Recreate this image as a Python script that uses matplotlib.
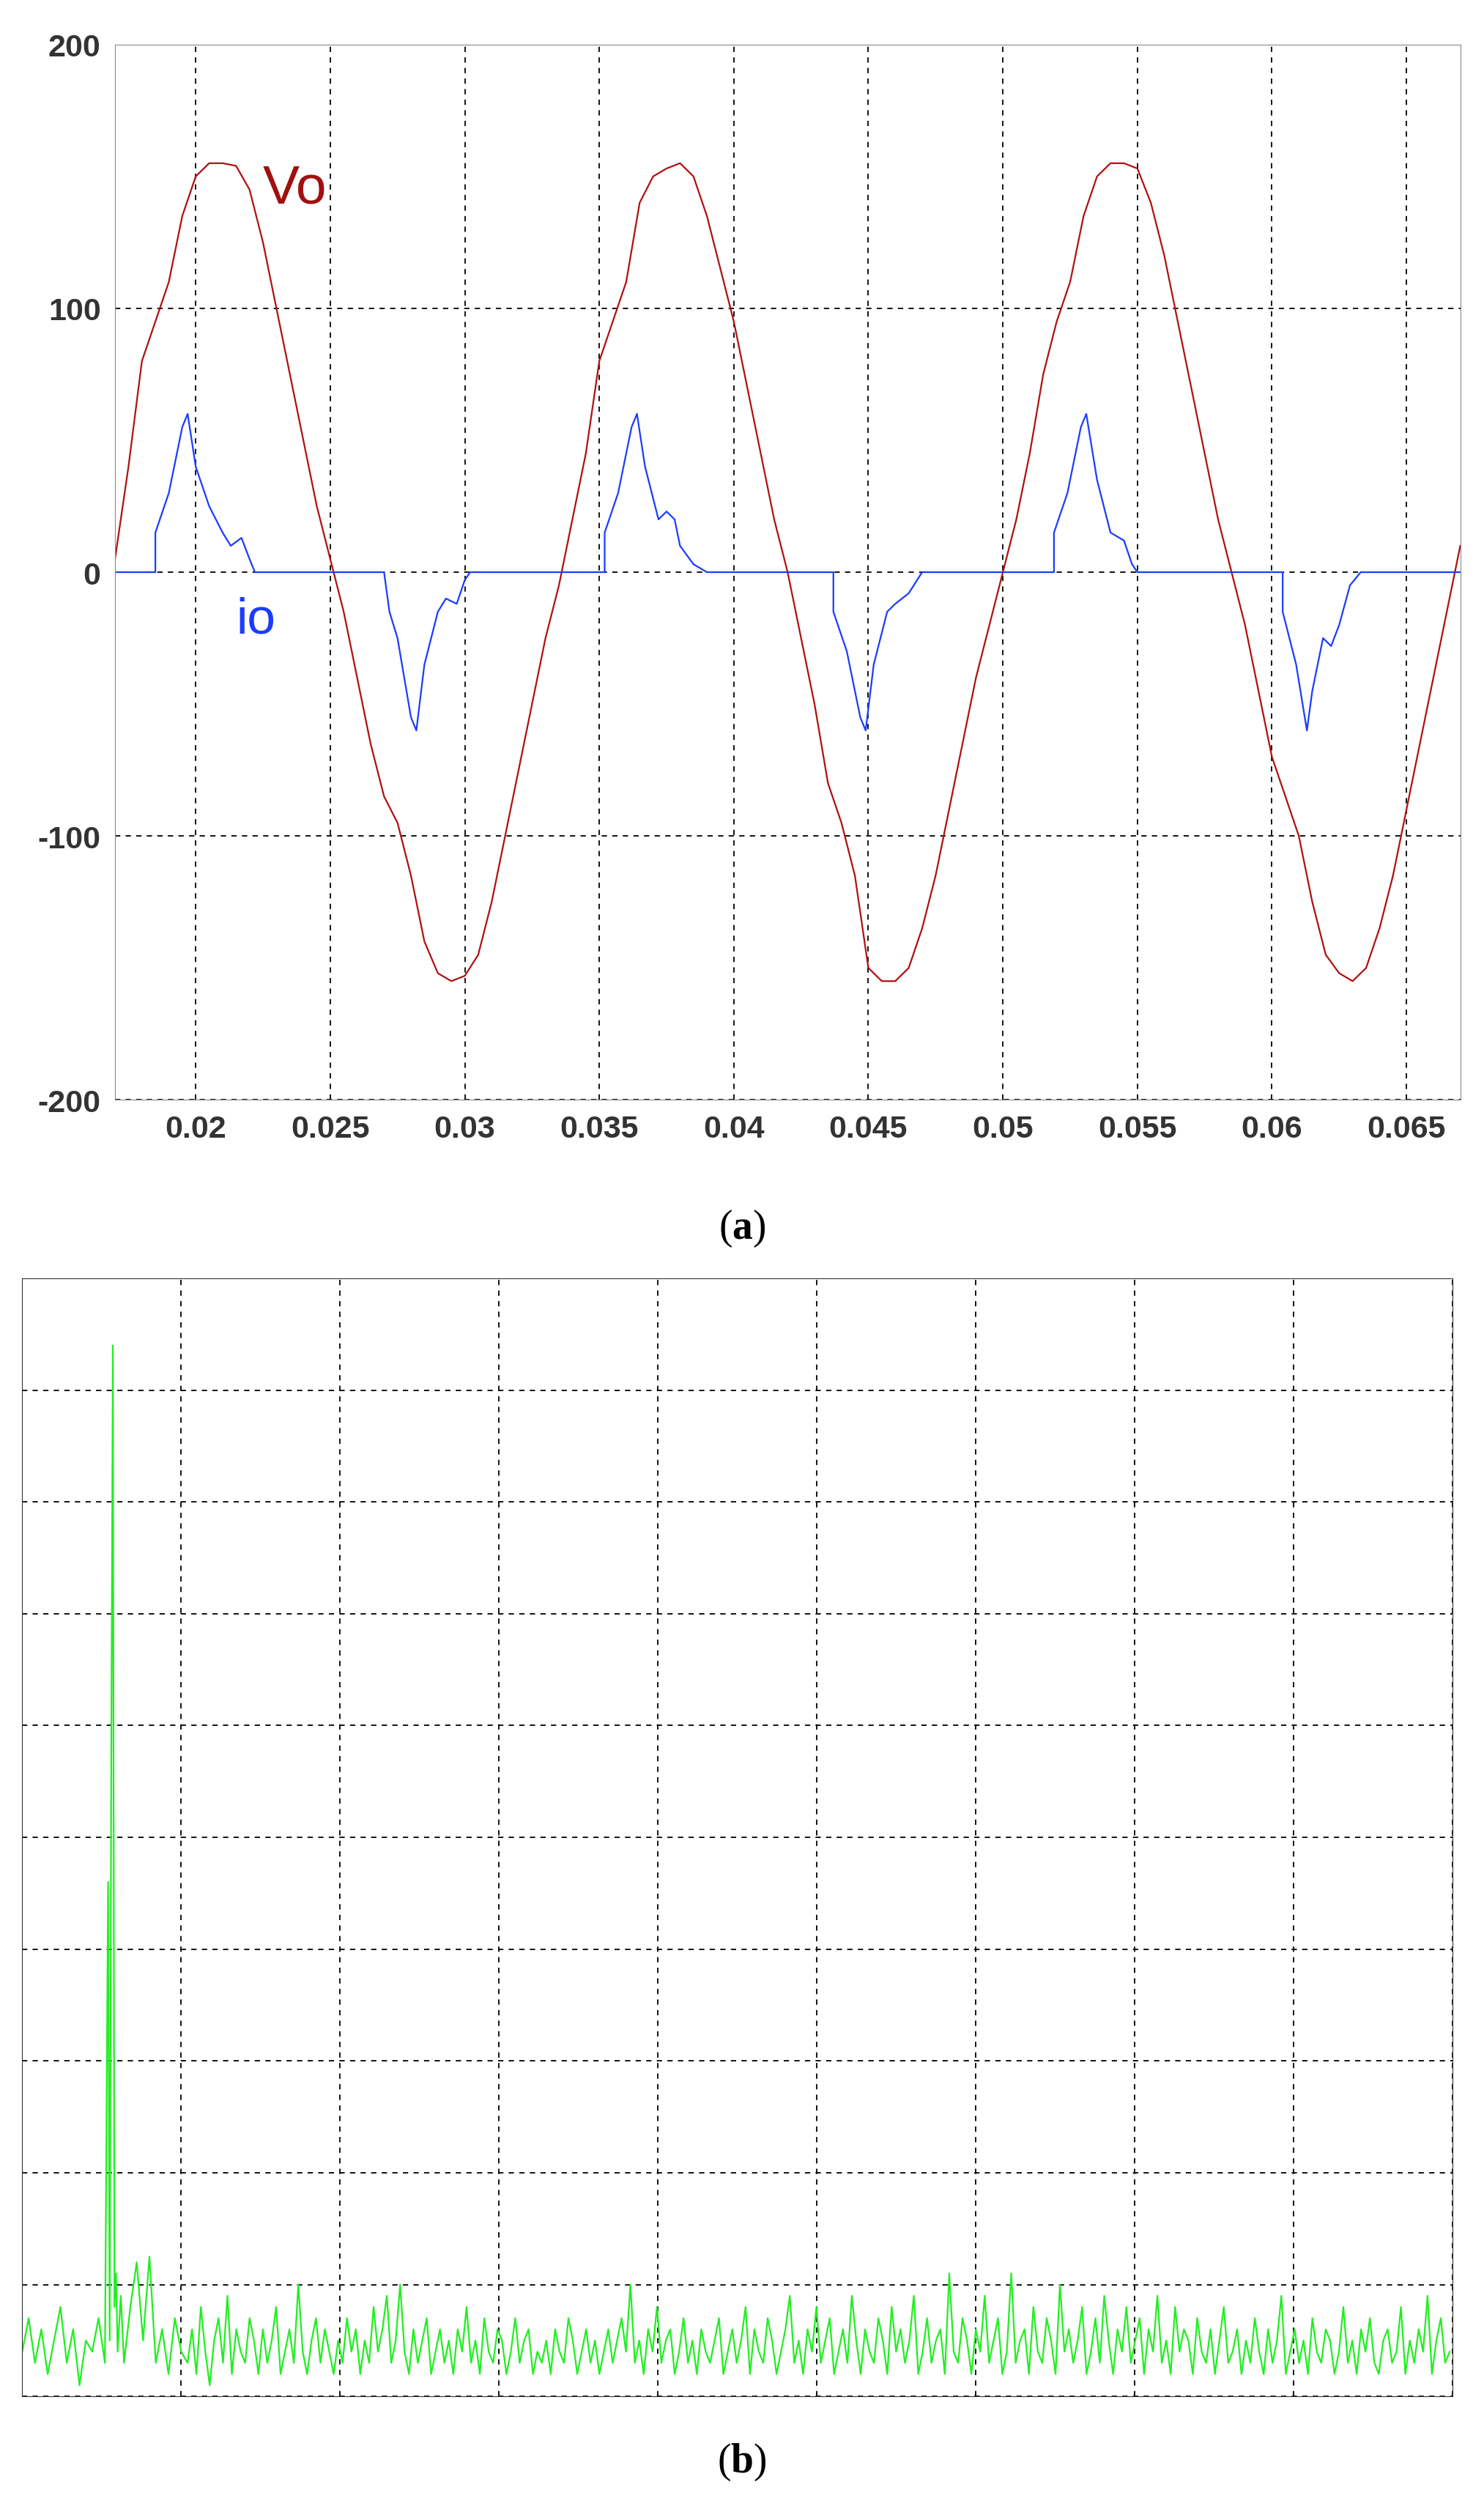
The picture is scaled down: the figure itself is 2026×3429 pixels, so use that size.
import matplotlib
matplotlib.use("Agg")
import matplotlib.pyplot as plt

t_vo = [0.017,0.0175,0.018,0.0185,0.019,0.0195,0.020,0.0205,0.021,0.0215,0.022,0.0225,0.023,0.0235,0.024,0.0245,0.025,0.0255,0.026,0.0265,0.027,0.0275,0.028,0.0285,0.029,0.0295,0.030,0.0305,0.031,0.0315,0.032,0.0325,0.033,0.0335,0.034,0.0345,0.035,0.0355,0.036,0.0365,0.037,0.0375,0.038,0.0385,0.039,0.0395,0.040,0.0405,0.041,0.0415,0.042,0.0425,0.043,0.0435,0.044,0.0445,0.045,0.0455,0.046,0.0465,0.047,0.0475,0.048,0.0485,0.049,0.0495,0.050,0.0505,0.051,0.0515,0.052,0.0525,0.053,0.0535,0.054,0.0545,0.055,0.0555,0.056,0.0565,0.057,0.0575,0.058,0.0585,0.059,0.0595,0.060,0.0605,0.061,0.0615,0.062,0.0625,0.063,0.0635,0.064,0.0645,0.065,0.0655,0.066,0.0665,0.067]
vo = [5,40,80,95,110,135,150,155,155,154,145,125,100,75,50,25,5,-15,-40,-65,-85,-95,-115,-140,-152,-155,-153,-145,-125,-100,-75,-50,-25,-5,20,45,80,95,110,140,150,153,155,150,135,115,95,70,45,20,0,-25,-50,-80,-95,-115,-150,-155,-155,-150,-135,-115,-90,-65,-40,-20,0,20,45,75,95,110,135,150,155,155,153,140,120,95,70,45,20,0,-20,-45,-70,-85,-100,-125,-145,-152,-155,-150,-135,-115,-90,-65,-40,-15,10]

t_io = [0.017,0.0185,0.0185,0.019,0.0195,0.0197,0.020,0.0205,0.021,0.0213,0.0217,0.022,0.0222,0.027,0.0272,0.0275,0.028,0.0282,0.0285,0.029,0.0293,0.0297,0.030,0.0302,0.0352,0.0352,0.0357,0.0362,0.0364,0.0367,0.0372,0.0375,0.0378,0.038,0.0385,0.039,0.0437,0.0437,0.0442,0.0447,0.0449,0.0452,0.0457,0.046,0.0465,0.047,0.0519,0.0519,0.0524,0.0529,0.0531,0.0535,0.054,0.0545,0.0548,0.055,0.0604,0.0604,0.0609,0.0613,0.0615,0.0619,0.0622,0.0625,0.0629,0.0633,0.067]
io = [0,0,15,30,55,60,40,25,15,10,13,5,0,0,-15,-25,-55,-60,-35,-15,-10,-12,-3,0,0,15,30,55,60,40,20,23,20,10,3,0,0,-15,-30,-55,-60,-35,-15,-12,-8,0,0,15,30,55,60,35,15,12,3,0,0,-15,-35,-60,-45,-25,-28,-20,-5,0,0]

spec_x = [0.0,0.04,0.08,0.12,0.16,0.2,0.24,0.28,0.32,0.36,0.4,0.44,0.48,0.52,0.54,0.55,0.56,0.57,0.58,0.59,0.60,0.62,0.64,0.68,0.72,0.76,0.8,0.84,0.88,0.92,0.96,1.0]
spec_y = [0.4,0.7,0.3,0.6,0.2,0.5,0.8,0.3,0.6,0.1,0.5,0.4,0.7,0.3,4.6,0.5,5.7,9.4,0.8,1.1,0.4,0.9,0.3,0.8,1.2,0.5,1.25,0.3,0.6,0.2,0.7,0.4]
noise = [0.3,0.6,0.2,0.8,0.4,0.1,0.5,0.7,0.3,0.9,0.2,0.6,0.4,0.3,0.7,0.5,0.2,0.6,0.3,0.5,0.8,0.2,0.4,0.6,0.3,1.0,0.4,0.2,0.5,0.7,0.3,0.6,0.4,0.2,0.5,0.3,0.7,0.4,0.6,0.2,
         0.5,0.3,0.8,0.4,0.6,0.9,0.3,0.5,1.0,0.4,0.2,0.6,0.3,0.5,0.7,0.2,0.4,0.6,0.3,0.5,0.2,0.6,0.4,0.8,0.3,0.5,0.2,0.7,0.4,0.3,0.6,0.5,0.2,0.4,0.7,0.3,0.5,0.6,0.2,0.4,
         0.3,0.5,0.2,0.6,0.4,0.3,0.7,0.5,0.2,0.4,0.6,0.3,0.5,0.2,0.4,0.6,0.3,0.5,0.7,0.4,1.0,0.3,0.5,0.2,0.6,0.4,0.8,0.3,0.5,0.6,0.2,0.4,0.7,0.3,0.5,0.2,0.6,0.4,0.3,0.5,
         0.7,0.2,0.4,0.6,0.3,0.5,0.8,0.2,0.6,0.4,0.3,0.7,0.5,0.2,0.4,0.6,0.9,0.3,0.5,0.2,0.6,0.4,0.8,0.3,0.5,0.7,0.2,0.4,0.6,0.3,0.9,0.5,0.2,0.6,0.4,0.3,0.7,0.5,0.2,0.8,
         0.4,0.6,0.3,0.5,0.9,0.2,0.4,0.7,0.3,0.5,0.6,0.2,1.1,0.4,0.3,0.7,0.5,0.2,0.6,0.4,0.9,0.3,0.5,0.7,0.2,0.4,1.1,0.3,0.5,0.6,0.2,0.8,0.4,0.3,0.7,0.5,0.2,1.0,0.4,0.6,
         0.3,0.5,0.8,0.2,0.4,0.7,0.3,0.9,0.5,0.2,0.6,0.4,0.8,0.3,0.5,0.7,0.2,0.6,0.4,0.9,0.3,0.5,0.2,0.8,0.4,0.6,
         0.5,0.2,0.7,0.4,0.3,0.6,0.2,0.5,0.8,0.3,0.4,0.6,0.2,0.5,0.3,0.7,0.4,0.2,0.6,0.3,0.5,0.9,0.2,0.4,0.6,0.3,0.5,0.2,0.7,0.4,
         0.3,0.6,0.5,0.2,0.4,0.8,0.3,0.5,0.2,0.6,0.4,0.7,0.3,0.2,0.5,0.6,0.3,0.4,0.8,0.2,0.5,0.3,0.6,0.4,0.9,0.2,0.5,0.7,0.3,0.4]
noise_start, noise_end = 1.04, 8.98

plt.rcParams['font.family'] = ['Liberation Sans', 'DejaVu Sans']
plt.rcParams['mathtext.fontset'] = 'custom'
plt.rcParams['mathtext.bf'] = 'Liberation Serif:bold'
plt.rcParams['mathtext.rm'] = 'Liberation Serif'
fig = plt.figure(figsize=(20.26, 34.30), dpi=100)

ax = fig.add_axes([0.0775, 0.562, 0.9065, 0.42])
ax.plot(t_vo, vo, color='#b01010', lw=1.6)
ax.plot(t_io, io, color='#1a3cff', lw=1.6)
ax.set_xlim(0.017, 0.067)
ax.set_ylim(-200, 200)
ax.set_xticks([0.02,0.025,0.03,0.035,0.04,0.045,0.05,0.055,0.06,0.065])
ax.set_xticklabels(['0.02','0.025','0.03','0.035','0.04','0.045','0.05','0.055','0.06','0.065'])
ax.set_yticks([-200,-100,0,100,200])
ax.set_yticklabels(['-200','-100','0','100','200'])
ax.grid(True, color='black', ls=(0,(4,4)), lw=1.3)
ax.tick_params(length=0, labelsize=31, pad=14)
for lab in ax.get_xticklabels()+ax.get_yticklabels():
    lab.set_fontweight('bold'); lab.set_color('#333333')
for s in ax.spines.values():
    s.set_color('#888888')
ax.text(0.0225, 140, 'Vo', color='#a01010', fontsize=54)
ax.text(0.0215, -23, 'io', color='#1a3cff', fontsize=50)
fig.text(0.5, 0.511, r'$\mathrm{(}\mathbf{a}\mathrm{)}$', ha='center', va='center', fontsize=40)

ax2 = fig.add_axes([0.015, 0.046, 0.964, 0.445])
n = len(noise)
nx = [noise_start + i*(noise_end-noise_start)/(n-1) for i in range(n)]
ax2.plot(spec_x + nx, spec_y + noise, color='#22ee22', lw=1.6)
ax2.set_xlim(0, 9)
ax2.set_ylim(0, 10)
ax2.set_xticks(range(10)); ax2.set_yticks(range(11))
ax2.set_xticklabels([]); ax2.set_yticklabels([])
ax2.tick_params(length=0)
ax2.grid(True, color='black', ls=(0,(4,4)), lw=1.3)
for s in ax2.spines.values():
    s.set_color('#333333')
fig.text(0.5, 0.020, r'$\mathrm{(}\mathbf{b}\mathrm{)}$', ha='center', va='center', fontsize=40)

fig.savefig('out.png', dpi=100)
